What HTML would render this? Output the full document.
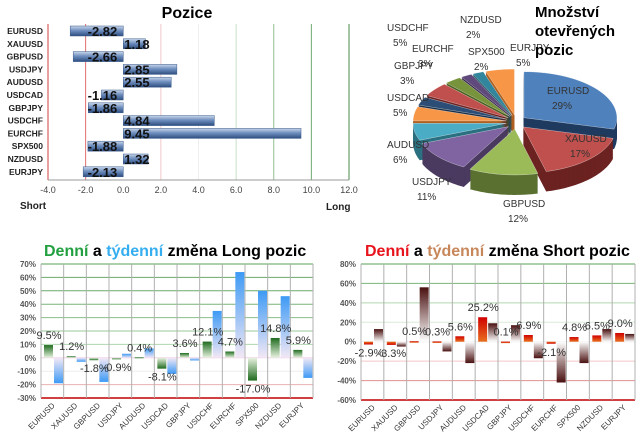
<!DOCTYPE html>
<html><head><meta charset="utf-8"><style>
html,body{margin:0;padding:0;background:#fff;}
svg{display:block;font-family:"Liberation Sans",sans-serif;}
</style></head><body>
<svg id="s" width="640" height="440" viewBox="0 0 640 440" xmlns="http://www.w3.org/2000/svg">
<defs>
<linearGradient id="gBlueBar" x1="0" y1="0" x2="0" y2="1"><stop offset="0" stop-color="#c9d6ea"/><stop offset="0.45" stop-color="#6f8fbf"/><stop offset="1" stop-color="#2d4d80"/></linearGradient>
<linearGradient id="gGreen" x1="0" y1="0" x2="0" y2="1"><stop offset="0" stop-color="#1f6b1f"/><stop offset="1" stop-color="#e8f2e0"/></linearGradient>
<linearGradient id="gGreenN" x1="0" y1="1" x2="0" y2="0"><stop offset="0" stop-color="#1f6b1f"/><stop offset="1" stop-color="#e8f2e0"/></linearGradient>
<linearGradient id="gBlue" x1="0" y1="0" x2="0" y2="1"><stop offset="0" stop-color="#3d9af5"/><stop offset="1" stop-color="#f3e8f5"/></linearGradient>
<linearGradient id="gBlueN" x1="0" y1="1" x2="0" y2="0"><stop offset="0" stop-color="#3d9af5"/><stop offset="1" stop-color="#f3e8f5"/></linearGradient>
<linearGradient id="gRed" x1="0" y1="0" x2="0" y2="1"><stop offset="0" stop-color="#d00000"/><stop offset="1" stop-color="#e87020"/></linearGradient>
<linearGradient id="gRedN" x1="0" y1="1" x2="0" y2="0"><stop offset="0" stop-color="#d00000"/><stop offset="1" stop-color="#e87020"/></linearGradient>
<linearGradient id="gBrown" x1="0" y1="0" x2="0" y2="1"><stop offset="0" stop-color="#4a1010"/><stop offset="1" stop-color="#ffffff"/></linearGradient>
<linearGradient id="gBrownN" x1="0" y1="1" x2="0" y2="0"><stop offset="0" stop-color="#4a1010"/><stop offset="1" stop-color="#ffffff"/></linearGradient>
</defs>
<text x="187" y="18" font-size="16" font-weight="bold" text-anchor="middle">Pozice</text>
<g id="top"></g>
<text x="20" y="209" font-size="10" font-weight="bold" fill="#222">Short</text>
<text x="326" y="210" font-size="10" font-weight="bold" fill="#222">Long</text>
<g id="pie"></g>
<text font-size="15" font-weight="bold"><tspan x="535" y="17">Množství</tspan><tspan x="535" y="36">otevřených</tspan><tspan x="535" y="55">pozic</tspan></text>
<text x="44" y="256" font-size="16" font-weight="bold"><tspan fill="#22a040">Denní</tspan> a <tspan fill="#35aef0">týdenní</tspan> změna Long pozic</text>
<text x="365" y="256" font-size="16" font-weight="bold"><tspan fill="#e8141c">Denní</tspan> a <tspan fill="#c8875a">týdenní</tspan> změna Short pozic</text>
<g id="longc"></g>
<g id="shortc"></g>
</svg>
<script>
const cats=["EURUSD","XAUUSD","GBPUSD","USDJPY","AUDUSD","USDCAD","GBPJPY","USDCHF","EURCHF","SPX500","NZDUSD","EURJPY"];
const positions=[-2.82,1.18,-2.66,2.85,2.55,-1.16,-1.86,4.84,9.45,-1.88,1.32,-2.13];
const posTicks=[-4,-2,0,2,4,6,8,10,12];
const pieLabels=["EURUSD","XAUUSD","GBPUSD","USDJPY","AUDUSD","USDCAD","GBPJPY","USDCHF","EURCHF","SPX500","NZDUSD","EURJPY"];
const pieValues=[29,17,12,11,6,5,3,5,3,2,2,5];
const longDaily=[9.5,1.2,-1.8,-0.9,0.4,-8.1,3.6,12.1,4.7,-17.0,14.8,5.9];
const longWeekly=[-19,-3,-18,3,7,-12,-2,35,64,50,46,-15];
const longTicks=[70,60,50,40,30,20,10,0,-10,-20,-30];
const shortDaily=[-2.9,-3.3,0.5,0.3,5.6,25.2,0.1,6.9,-2.1,4.8,6.5,9.0];
const shortWeekly=[13,-5,56,-10,-22,19,17,-17,-42,-22,13,8];
const shortTicks=[80,60,40,20,0,-20,-40,-60];
const NS="http://www.w3.org/2000/svg";
function mk(p,t,a,txt){const e=document.createElementNS(NS,t);for(const k in a)e.setAttribute(k,a[k]);if(txt!==undefined)e.textContent=txt;p.appendChild(e);return e;}

(function(){
const g=document.getElementById('top');
const x=v=>48+(v+4)*(301/16);
const y0=31,dy=12.8;
const gcol={"-4":"#d04040","-2":"#e07070","0":"#ffffff","2":"#f0c8c8","4":"#eeeeee","6":"#c8e0c8","8":"#90c090","10":"#70a870","12":"#4a8a4a"};
posTicks.forEach(t=>{
  if(t!==0){const l=mk(g,'line',{x1:x(t),x2:x(t),y1:24,y2:180,stroke:gcol[t],'stroke-width':1});
  }
  const tx=mk(g,'text',{x:x(t),y:193,'font-size':9,'text-anchor':'middle',fill:'#444'},t.toFixed(1));
  
});
mk(g,'line',{x1:48,x2:349,y1:180,y2:180,stroke:'#999'});
cats.forEach((c,i)=>{
  const yc=y0+i*dy;
  const lb=mk(g,'text',{x:43,y:yc+3,'font-size':8.5,'font-weight':'bold','text-anchor':'end',fill:'#222'},c);
  
  const v=positions[i];const a=x(0),b=x(v);
  const r=mk(g,'rect',{x:Math.min(a,b),y:yc-5,width:Math.abs(b-a),height:10,fill:'url(#gBlueBar)',stroke:'#3a5a8a','stroke-width':0.5});
  
  const vt=mk(g,'text',{x:v<0?a-6:a+1,y:yc+5,'font-size':13,'font-weight':'bold','text-anchor':v<0?'end':'start',fill:'#111'},v.toFixed(2));
  
});
})();

(function(){
const g=document.getElementById('pie');
const cx=516,cy=122,rx=93,ry=46,depth=20,ex=10;
const cols=["#4f81bd","#c0504d","#9bbb59","#8064a2","#4bacc6","#f79646","#2c4d75","#c0504d","#77933c","#604a7b","#31859c","#f79646"];
const cols2=["#1f3a5f","#6b2220","#5a7030","#4a3a60","#2a7080","#b06020","#1a2f48","#6b2220","#4a6020","#3a2a50","#1e5560","#b06020"];
const tot=pieValues.reduce((a,b)=>a+b,0);
let a=-90;const sl=[];
pieValues.forEach((v,i)=>{const s=a,e=a+v/tot*360;sl.push({i,s,e,m:(s+e)/2});a=e;});
function path(s,e,ox,oy){let d=`M${cx+ox},${cy+oy}`;for(let t=s;t<=e+0.001;t+=Math.max(0.5,(e-s)/40)){const r=t*Math.PI/180;d+=` L${cx+ox+rx*Math.cos(r)},${cy+oy+ry*Math.sin(r)}`;}return d+'Z';}
sl.slice().sort((p,q)=>Math.sin(p.m*Math.PI/180)-Math.sin(q.m*Math.PI/180)).forEach(o=>{
  const r=o.m*Math.PI/180,ox=Math.cos(r)*ex,oy=Math.sin(r)*ex*0.7;
  for(let k=depth;k>0;k-=1){mk(g,'path',{d:path(o.s,o.e,ox,oy+k),fill:cols2[o.i]});}
  const p=mk(g,'path',{d:path(o.s,o.e,ox,oy),fill:cols[o.i],stroke:'#fff','stroke-width':0.3});
  
});
const lp=[[547,94],[565,142],[503,207],[412,185],[387,148],[387,101],[394,69],[387,31],[412,52],[468,55],[460,23],[510,51]];
pieLabels.forEach((l,i)=>{
  const t=mk(g,'text',{x:lp[i][0],y:lp[i][1],'font-size':10,fill:'#333'});
  mk(t,'tspan',{x:lp[i][0],dy:0},l);
  mk(t,'tspan',{x:lp[i][0]+(pieValues[i]>=10?5:6),dy:15},pieValues[i]+'%');
  
});
})();

function changeChart(gid,x0,x1,yTop,yBot,ticks,daily,weekly,gD,gDN,gW,gWN,gridCols){
const g=document.getElementById(gid);
const vmax=ticks[0],vmin=ticks[ticks.length-1];
const y=v=>yTop+(vmax-v)/(vmax-vmin)*(yBot-yTop);
const cw=(x1-x0)/cats.length;
ticks.forEach((t,k)=>{
  const l=mk(g,'line',{x1:x0,x2:x1,y1:y(t),y2:y(t),stroke:gridCols[k],'stroke-width':t===vmin?2:1});
  
  const tx=mk(g,'text',{x:x0-5,y:y(t)+3,'font-size':8,'font-weight':'bold','text-anchor':'end',fill:'#555'},t+'%');
  
});
for(let i=0;i<=cats.length;i++){mk(g,'line',{x1:x0+i*cw,x2:x0+i*cw,y1:yTop,y2:yBot,stroke:'#b0b0b0','stroke-width':1});}
cats.forEach((c,i)=>{
  const cx=x0+i*cw;
  const vd=daily[i],vw=weekly[i];
  const rd=mk(g,'rect',{x:cx+3,y:Math.min(y(0),y(vd)),width:9,height:Math.max(1.5,Math.abs(y(vd)-y(0))),fill:vd>=0?gD:gDN});
  
  const rw=mk(g,'rect',{x:cx+13,y:Math.min(y(0),y(vw)),width:9,height:Math.max(1.5,Math.abs(y(vw)-y(0))),fill:vw>=0?gW:gWN});
  
  const ly=vd>=0?y(vd)-6:y(vd)+12;
  const lt=mk(g,'text',{x:cx+8,y:ly,'font-size':11,'text-anchor':'middle',fill:'#333'},vd.toFixed(1)+'%');
  
  const xt=mk(g,'text',{x:cx+cw/2+3,y:yBot+8,'font-size':8,'text-anchor':'end',fill:'#333',transform:`rotate(-45 ${cx+cw/2+3} ${yBot+8})`},c);
  
});
}
changeChart('longc',41,313,264,398,longTicks,longDaily,longWeekly,'url(#gGreen)','url(#gGreenN)','url(#gBlue)','url(#gBlueN)',
 ["#5aa05a","#6aaa6a","#6aaa6a","#7ab47a","#8abe8a","#9ac89a","#b0d6b0","#f0d0e8","#eeeeee","#e8b0b0","#d04040"]);
changeChart('shortc',361,635,264,400,shortTicks,shortDaily,shortWeekly,'url(#gRed)','url(#gRedN)','url(#gBrown)','url(#gBrownN)',
 ["#5aa05a","#7ab47a","#b0d6b0","#d8ead8","#eeeeee","#f0c8c8","#e09090","#d04040"]);
</script>
</body></html>
